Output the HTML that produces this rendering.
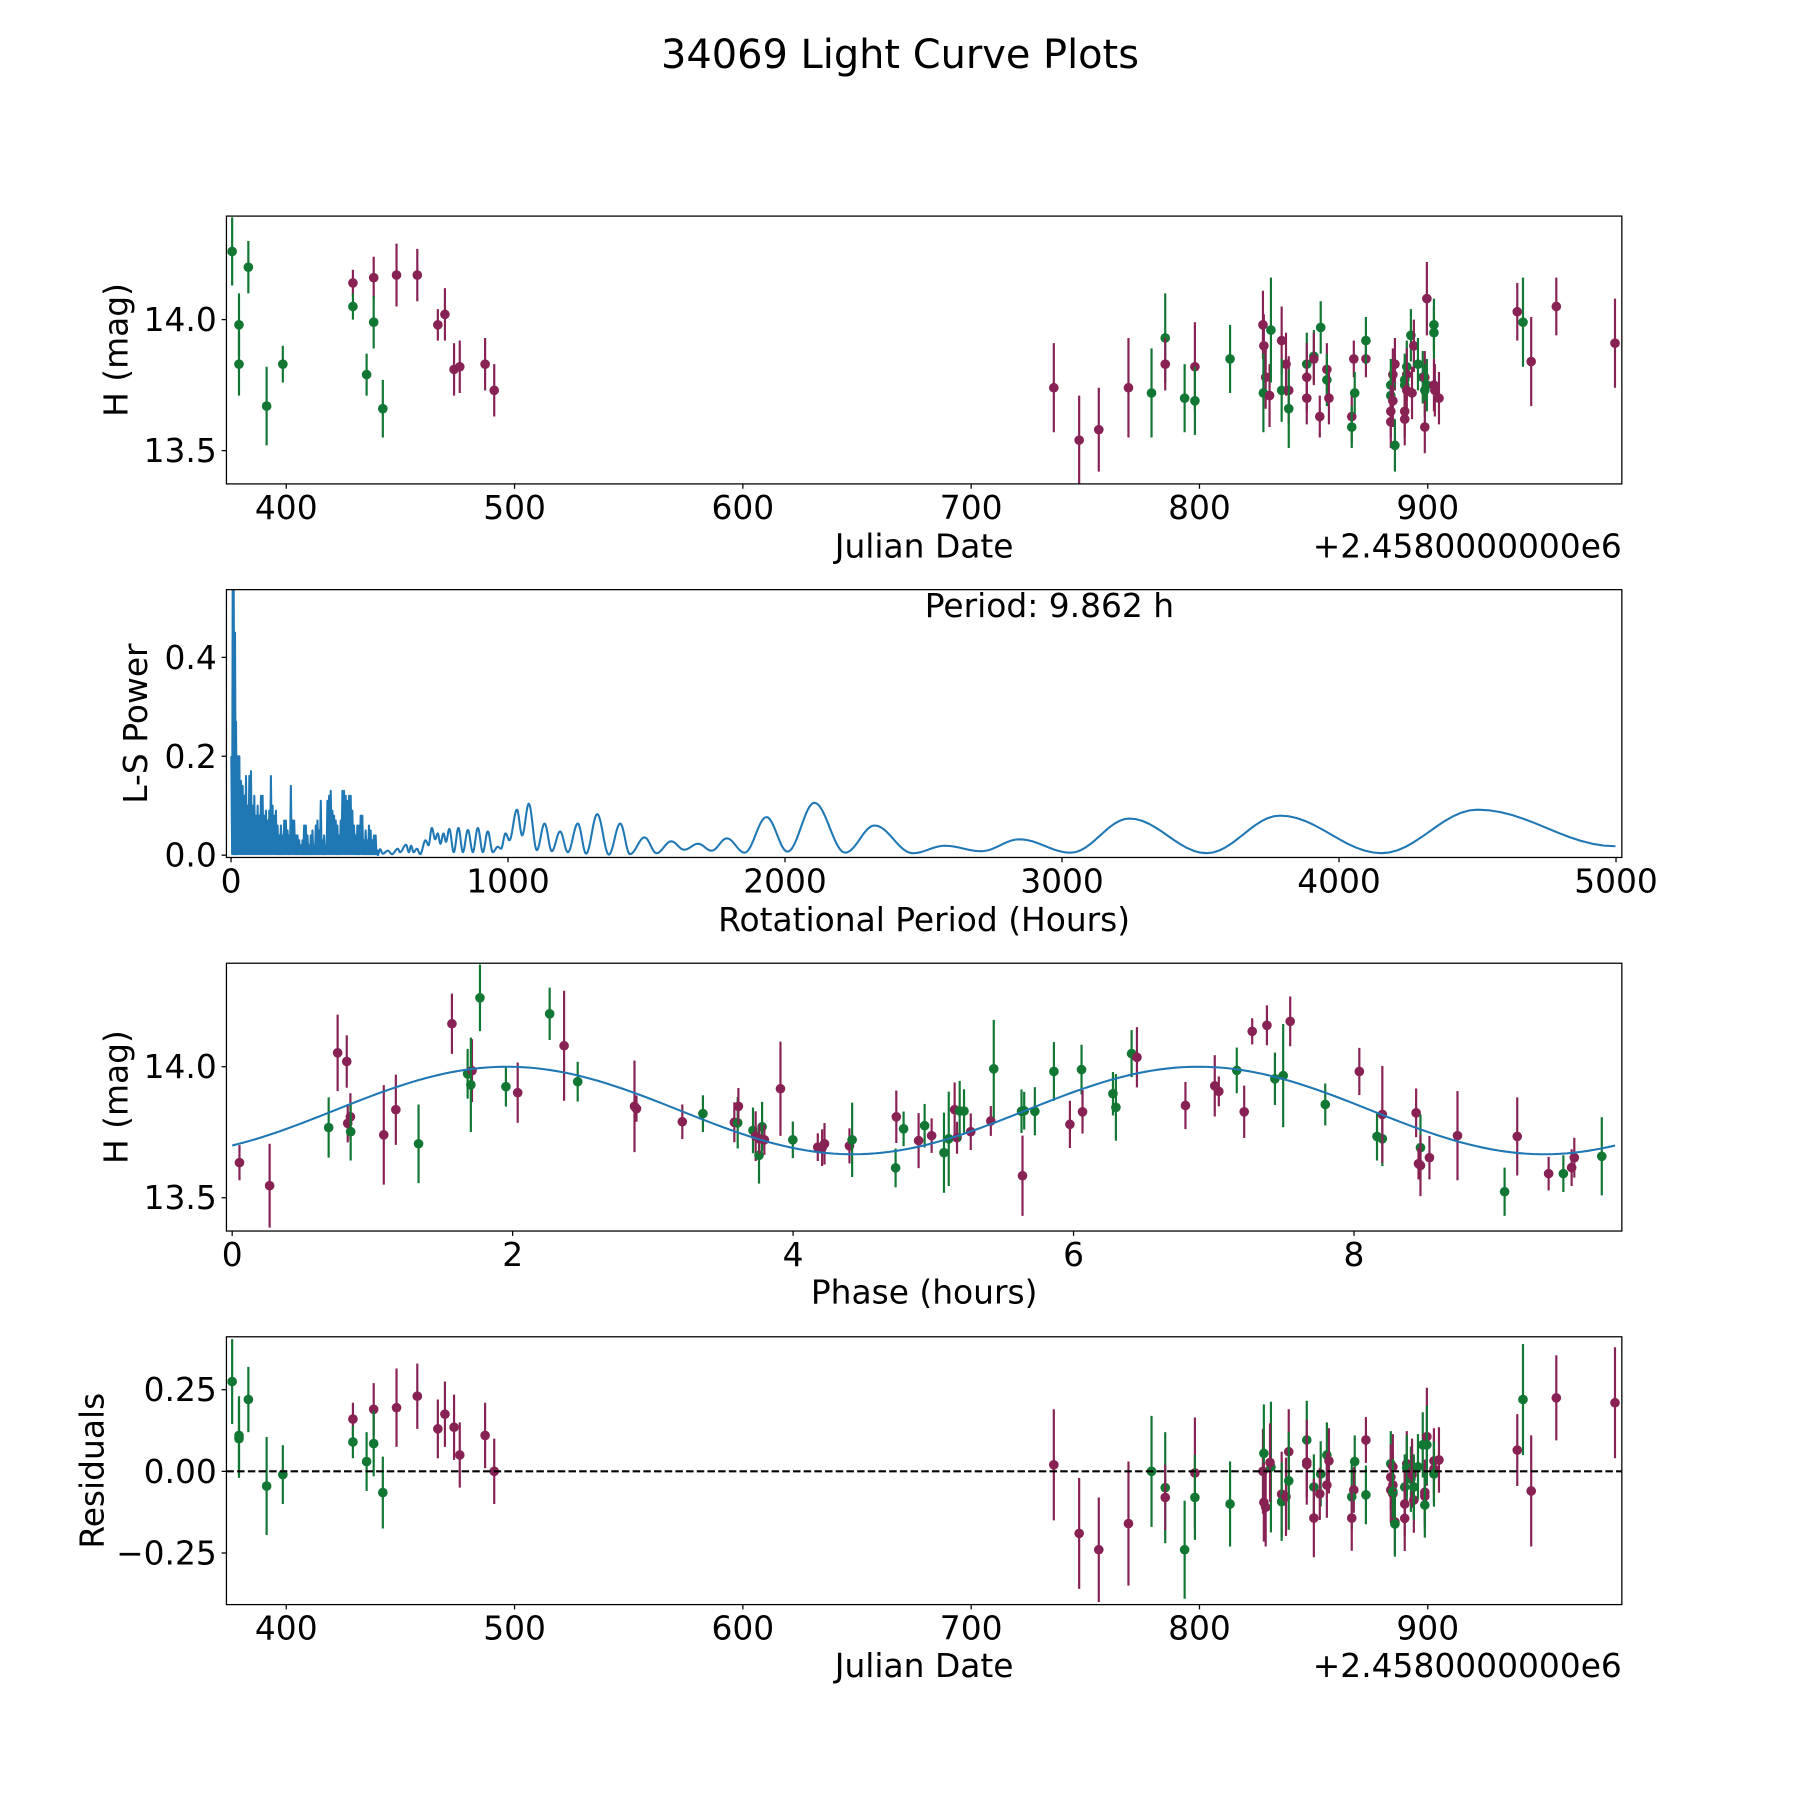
<!DOCTYPE html>
<html><head><meta charset="utf-8"><title>34069 Light Curve Plots</title>
<style>html,body{margin:0;padding:0;background:#fff}svg{display:block}text{font-family:"DejaVu Sans","Liberation Sans",sans-serif;fill:#000}</style>
</head><body>
<svg id="fig" xmlns="http://www.w3.org/2000/svg" width="1800" height="1800" viewBox="0 0 1566 1566">
<rect x="0" y="0" width="1566" height="1566" fill="#fff"/>
<text x="783" y="59" font-size="34.7" text-anchor="middle">34069 Light Curve Plots</text>
</svg>
<script>
// ---------- Panel 1: light curve (Julian date offset 2458000) ----------
const lcDates = [376.3,379.3,379.3,383.4,391.4,398.5,429.2,429.2,435.2,438.3,438.3,442.3,448.3,457.4,466.4,469.5,473.5,476.0,487.1,491.1,
736.2,747.3,755.9,768.9,779.0,785.0,785.0,793.5,798.0,798.0,813.4,
827.8,828.2,829.0,828.0,830.7,831.3,836.0,837.9,836.0,839.1,839.1,847.0,847.0,847.0,850.1,850.1,853.1,852.7,855.8,855.8,856.7,866.7,866.7,867.6,868.0,872.9,872.9,
885.6,884.7,883.8,883.8,884.7,883.8,883.8,885.6,892.6,893.9,890.8,890.8,889.9,889.9,890.8,893.1,889.9,889.9,
895.7,899.6,897.8,898.7,898.7,898.7,899.6,902.7,902.7,902.7,903.1,904.9,
939.2,941.7,945.3,956.3,982.0];
const lcMags = [14.26,13.98,13.83,14.20,13.67,13.83,14.14,14.05,13.79,14.16,13.99,13.66,14.17,14.17,13.98,14.02,13.81,13.82,13.83,13.73,
13.74,13.54,13.58,13.74,13.72,13.93,13.83,13.70,13.82,13.69,13.85,
13.98,13.90,13.78,13.72,13.71,13.96,13.92,13.83,13.73,13.73,13.66,13.83,13.78,13.70,13.86,13.85,13.97,13.63,13.81,13.77,13.70,13.63,13.59,13.85,13.72,13.85,13.92,
13.83,13.79,13.75,13.71,13.69,13.65,13.61,13.52,13.94,13.90,13.82,13.79,13.77,13.75,13.73,13.72,13.65,13.62,
13.83,14.08,13.78,13.78,13.73,13.59,13.75,13.98,13.95,13.75,13.73,13.70,
14.03,13.99,13.84,14.05,13.91];
const lcErrs = [0.13,0.12,0.12,0.10,0.15,0.07,0.05,0.05,0.08,0.08,0.10,0.11,0.12,0.10,0.06,0.10,0.10,0.10,0.10,0.10,
0.17,0.17,0.16,0.19,0.17,0.17,0.10,0.13,0.17,0.13,0.13,
0.13,0.12,0.12,0.15,0.12,0.20,0.13,0.12,0.12,0.13,0.15,0.12,0.13,0.10,0.10,0.10,0.10,0.08,0.10,0.10,0.10,0.10,0.08,0.07,0.08,0.07,0.09,
0.10,0.10,0.10,0.10,0.10,0.10,0.10,0.10,0.10,0.10,0.10,0.10,0.10,0.10,0.10,0.10,0.10,0.10,
0.10,0.14,0.10,0.10,0.10,0.10,0.10,0.10,0.10,0.10,0.10,0.10,
0.11,0.17,0.17,0.11,0.17];
const lcColors = ['g','g','g','g','g','g','m','g','g','m','g','g','m','m','m','m','m','m','m','m',
'm','m','m','m','g','g','m','g','m','g','g',
'm','m','m','g','m','g','m','m','g','m','g','g','m','m','g','m','g','m','m','g','m','m','g','m','g','m','g',
'm','m','g','g','m','m','m','g','g','m','g','m','g','g','m','m','m','m',
'g','m','g','m','g','m','g','g','g','m','m','m',
'm','g','m','m','m'];

// ---------- Panel 2: Lomb-Scargle periodogram ----------
const lsNoisePeriods = [1,6,9.6,14.4,18,24,30,36,42,48,54,60,66,72,78,84,90,96,102,108,114,120,126,132,138,144,150,156,162,168,174,180,186,192,198,204,210,216,222,228,234,240,246,252,258,264,270,276,282,288,294,300,306,312,318,324,330,336,342,348,354,360,366,372,378,384,390,396,402,408,414,420,426,432,438,444,450,456,462,468,474,480,486,492,498,504,510,516,522,528];
const lsNoisePowers = [0.20,0.56,0.56,0.45,0.27,0.20,0.20,0.15,0.14,0.12,0.16,0.10,0.16,0.17,0.10,0.12,0.08,0.10,0.08,0.12,0.12,0.08,0.09,0.07,0.09,0.16,0.10,0.08,0.09,0.06,0.04,0.06,0.04,0.07,0.07,0.05,0.04,0.14,0.07,0.07,0.04,0.04,0.03,0.02,0.03,0.06,0.06,0.04,0.02,0.04,0.05,0.02,0.06,0.07,0.05,0.11,0.03,0.04,0.02,0.11,0.12,0.13,0.09,0.08,0.07,0.06,0.04,0.07,0.13,0.13,0.12,0.11,0.12,0.12,0.09,0.06,0.04,0.06,0.06,0.08,0.08,0.03,0.05,0.03,0.06,0.05,0.03,0.04,0.04,0.01];
const lsSmoothPeriods = [530,538,548,566,581,602,610,632,642,650,659,671,683,702,713,725,737,746,756,767,776,788,804,821,837,855,873,891,909,927,945,963,975,991,1005,1032,1051,1075,1104,1132,1158,1188,1216,1252,1282,1322,1364,1405,1440,1493,1536,1589,1636,1686,1735,1790,1854,1933,2009,2106,2217,2323,2461,2577,2708,2846,3031,3243,3522,3787,4154,4500,4998];
const lsSmoothPowers = [0.000,0.012,0.003,0.009,0.002,0.013,0.006,0.021,0.006,0.019,0.006,0.013,0.002,0.030,0.020,0.055,0.032,0.044,0.023,0.044,0.027,0.053,0.006,0.055,0.006,0.051,0.006,0.055,0.006,0.048,0.006,0.017,0.013,0.044,0.030,0.092,0.040,0.104,0.010,0.064,0.008,0.048,0.006,0.064,0.003,0.083,0.001,0.064,0.002,0.036,0.004,0.028,0.011,0.023,0.009,0.034,0.005,0.077,0.007,0.106,0.005,0.060,0.004,0.019,0.008,0.032,0.005,0.074,0.004,0.080,0.004,0.092,0.018];
const bestPeriod = 9.862;

// ---------- Panel 3: phase-folded curve ----------
const phPhases = [0.052,0.267,0.688,0.752,0.817,0.824,0.843,0.845,1.081,1.167,1.329,1.567,1.679,1.710,1.702,1.767,1.952,2.036,2.264,2.367,2.464,2.869,2.883,3.210,
3.357,3.581,3.605,3.610,3.714,3.733,3.757,3.779,3.760,3.795,3.910,3.998,4.176,4.207,4.224,4.402,4.421,4.731,4.736,4.788,4.895,4.938,4.988,5.076,5.110,5.152,5.169,5.188,5.219,5.267,5.410,5.431,5.636,5.629,5.648,5.724,5.860,5.974,6.057,6.064,6.281,6.302,6.414,6.452,
6.798,7.007,7.036,7.164,7.217,7.274,7.379,7.436,7.495,7.545,7.795,8.038,8.164,8.202,8.202,8.443,8.474,8.460,8.474,8.538,8.738,9.074,9.164,9.388,9.493,9.552,9.571,9.767];
const phMags = [13.634,13.546,13.768,14.053,14.020,13.784,13.809,13.752,13.740,13.836,13.706,14.164,13.973,13.985,13.931,14.263,13.924,13.901,14.202,14.080,13.943,13.849,13.840,13.790,
13.821,13.788,13.786,13.849,13.757,13.735,13.662,13.771,13.725,13.721,13.916,13.721,13.693,13.691,13.706,13.698,13.721,13.614,13.809,13.763,13.718,13.775,13.737,13.672,13.725,13.836,13.729,13.831,13.831,13.752,13.793,13.992,13.584,13.830,13.832,13.830,13.982,13.780,13.989,13.828,13.897,13.845,14.050,14.036,
13.852,13.927,13.906,13.986,13.828,14.135,14.158,13.954,13.966,14.173,13.856,13.982,13.734,13.725,13.818,13.824,13.691,13.630,13.623,13.653,13.737,13.523,13.734,13.592,13.592,13.615,13.653,13.658];
const phErrs = [0.067,0.16,0.115,0.146,0.10,0.073,0.09,0.11,0.19,0.134,0.15,0.115,0.095,0.12,0.18,0.127,0.076,0.115,0.10,0.21,0.076,0.175,0.05,0.066,
0.07,0.076,0.098,0.07,0.087,0.095,0.108,0.095,0.057,0.057,0.18,0.07,0.053,0.07,0.079,0.067,0.142,0.074,0.10,0.066,0.105,0.083,0.066,0.153,0.18,0.104,0.061,0.115,0.083,0.07,0.057,0.187,0.153,0.083,0.072,0.092,0.112,0.09,0.095,0.083,0.083,0.127,0.09,0.115,
0.09,0.117,0.057,0.087,0.10,0.05,0.076,0.10,0.197,0.095,0.08,0.09,0.092,0.104,0.185,0.093,0.127,0.06,0.117,0.083,0.17,0.092,0.149,0.064,0.07,0.07,0.076,0.149];
const phColors = ['m','m','g','m','m','m','m','g','m','m','g','m','g','m','g','g','g','m','g','m','g','m','m','m',
'g','m','g','m','g','m','g','g','m','m','m','g','m','m','m','m','g','g','m','g','m','g','m','g','g','m','m','g','g','m','m','g','m','g','g','g','g','m','g','m','g','g','g','m',
'm','m','m','g','m','m','m','g','g','m','g','m','g','g','m','m','g','m','m','m','m','g','m','m','g','m','m','g'];
const modelMean = 13.833, modelAmp = 0.167, modelPeakPhase = 1.96;

// ---------- Panel 4: residuals ----------
const resDates = [376.3,379.3,379.3,383.4,391.4,398.5,429.2,429.2,435.2,438.3,438.3,442.3,448.3,457.4,466.4,469.5,473.5,476.0,487.1,491.1,
736.2,747.3,755.9,768.9,779.0,785.0,785.0,793.5,798.0,798.0,813.4,
827.8,828.2,828.2,829.0,831.3,830.9,836.0,836.0,837.9,839.1,839.1,847.0,847.0,847.0,850.1,850.1,853.1,852.7,855.8,856.7,855.8,868.0,867.6,866.7,866.7,872.9,872.9,
883.8,884.7,883.8,883.8,884.7,884.7,884.7,885.6,885.6,890.8,890.8,893.1,892.6,893.1,889.9,889.9,889.9,893.9,893.9,
895.7,897.8,899.6,899.6,898.7,898.7,898.7,902.7,902.7,902.7,904.9,
939.2,941.7,945.3,956.3,982.0];
const resVals = [0.275,0.11,0.10,0.22,-0.045,-0.01,0.16,0.09,0.03,0.19,0.085,-0.065,0.195,0.23,0.13,0.175,0.135,0.05,0.11,0.0,
0.02,-0.19,-0.24,-0.16,0.0,-0.05,-0.08,-0.24,-0.005,-0.08,-0.10,
0.0,0.055,-0.095,-0.11,0.013,0.027,-0.07,-0.093,-0.078,0.06,-0.029,0.096,0.028,0.021,-0.048,-0.143,-0.008,-0.069,0.050,0.032,-0.042,0.030,-0.057,-0.078,-0.143,0.096,-0.072,
0.023,0.014,-0.018,-0.057,-0.042,-0.069,-0.062,-0.155,-0.161,0.023,0.011,0.0,-0.024,-0.011,-0.048,-0.100,-0.144,-0.088,-0.048,
0.014,0.081,0.106,0.081,-0.064,-0.076,-0.103,0.032,0.007,-0.008,0.035,
0.065,0.22,-0.06,0.225,0.21];
const resErrs = [0.13,0.12,0.12,0.10,0.15,0.09,0.05,0.05,0.09,0.08,0.10,0.11,0.12,0.10,0.09,0.10,0.10,0.10,0.10,0.10,
0.17,0.17,0.16,0.19,0.17,0.17,0.10,0.15,0.17,0.13,0.13,
0.13,0.15,0.12,0.12,0.2,0.12,0.13,0.12,0.12,0.13,0.15,0.12,0.13,0.10,0.10,0.12,0.10,0.08,0.10,0.10,0.10,0.08,0.07,0.10,0.10,0.07,0.09,
0.10,0.10,0.10,0.10,0.10,0.10,0.10,0.10,0.10,0.10,0.10,0.10,0.10,0.10,0.10,0.10,0.10,0.10,0.10,
0.10,0.10,0.15,0.12,0.10,0.10,0.10,0.10,0.10,0.10,0.10,
0.11,0.17,0.17,0.13,0.17];
const resColors = ['g','g','g','g','g','g','m','g','g','m','g','g','m','m','m','m','m','m','m','m',
'm','m','m','m','g','g','m','g','m','g','g',
'm','g','m','m','g','m','m','g','m','m','g','g','m','m','g','m','g','m','g','m','m','g','m','g','m','m','g',
'g','m','m','m','m','m','g','m','g','m','g','m','g','m','g','m','m','m','g',
'g','g','m','g','m','m','g','m','m','g','m',
'm','g','m','m','m'];

// ---------- Ticks ----------
const jdTicks = [400,500,600,700,800,900];
const jdTickLabels = ['400','500','600','700','800','900'];
const magTicks = [13.5,14.0];
const magTickLabels = ['13.5','14.0'];
const lsXTicks = [0,1000,2000,3000,4000,5000];
const lsXTickLabels = ['0','1000','2000','3000','4000','5000'];
const lsYTicks = [0,0.2,0.4];
const lsYTickLabels = ['0.0','0.2','0.4'];
const phTicks = [0,2,4,6,8];
const phTickLabels = ['0','2','4','6','8'];
const resTicks = [-0.25,0,0.25];
const resTickLabels = ['\u22120.25','0.00','0.25'];

const NS = 'http://www.w3.org/2000/svg';
const svg = document.getElementById('fig');
const COL = {g:'#117733', m:'#882255'};
const FS = 28.6;

function mk(tag, attrs, parent){
  const e = document.createElementNS(NS, tag);
  for (const k in attrs) e.setAttribute(k, attrs[k]);
  (parent||svg).appendChild(e);
  return e;
}
function makePanel(name, x0, x1, y0, y1, xd, yd){
  const g = mk('g', {});
  
  
  const cp = mk('clipPath', {id: 'clip-' + name}, g);
  mk('rect', {x: x0, y: y0, width: x1 - x0, height: y1 - y0}, cp);
  const sx = v => x0 + (v - xd[0]) / (xd[1] - xd[0]) * (x1 - x0);
  const sy = v => y1 - (v - yd[0]) / (yd[1] - yd[0]) * (y1 - y0);
  const plot = mk('g', {'clip-path': 'url(#clip-' + name + ')'}, g);
  
  
  return {g, plot, sx, sy, x0, x1, y0, y1};
}
function frame(P){
  const r = mk('rect', {x: P.x0, y: P.y0, width: P.x1 - P.x0, height: P.y1 - P.y0, fill: 'none', stroke: '#000', 'stroke-width': 1.1}, P.g);
  
  
}
function xTicks(P, vals, labels){
  vals.forEach((v, i) => {
    const x = P.sx(v);
    const t = mk('line', {x1: x, x2: x, y1: P.y1, y2: P.y1 + 4.2, stroke: '#000', 'stroke-width': 1.1}, P.g);
    
    
    const l = mk('text', {x: x, y: P.y1 + 30.5, 'font-size': FS, 'text-anchor': 'middle'}, P.g);
    l.textContent = labels[i];
    
    
  });
}
function yTicks(P, vals, labels){
  vals.forEach((v, i) => {
    const y = P.sy(v);
    const t = mk('line', {x1: P.x0 - 4.2, x2: P.x0, y1: y, y2: y, stroke: '#000', 'stroke-width': 1.1}, P.g);
    
    
    const l = mk('text', {x: P.x0 - 8.4, y: y + 10, 'font-size': FS, 'text-anchor': 'end'}, P.g);
    l.textContent = labels[i];
    
    
  });
}
function xLabel(P, txt, y, name){
  const l = mk('text', {x: (P.x0 + P.x1) / 2, y: y, 'font-size': FS, 'text-anchor': 'middle'}, P.g);
  l.textContent = txt;
  
  
}
function yLabel(P, txt, x, name){
  const cy = (P.y0 + P.y1) / 2;
  const l = mk('text', {x: x, y: cy, 'font-size': FS, 'text-anchor': 'middle', 'dominant-baseline': 'central', transform: 'rotate(-90 ' + x + ' ' + cy + ')'}, P.g);
  l.textContent = txt;
  
  
}
function offsetText(P, y){
  const l = mk('text', {x: P.x1, y: y, 'font-size': FS, 'text-anchor': 'end'}, P.g);
  l.textContent = '+2.4580000000e6';
  
  
}
function errPoints(P, xs, ys, es, cs){
  xs.forEach((xv, i) => {
    const c = COL[cs[i]];
    const x = P.sx(xv);
    const eb = mk('line', {x1: x, x2: x, y1: P.sy(ys[i] - es[i]), y2: P.sy(ys[i] + es[i]), stroke: c, 'stroke-width': 1.9}, P.plot);
    
    
    const d = mk('circle', {cx: x, cy: P.sy(ys[i]), r: 4.2, fill: c}, P.plot);
    
    
  });
}

// Panel 1
const P1 = makePanel('light-curve-panel', 197, 1411, 188, 421, [373.8, 985], [13.373, 14.395]);
errPoints(P1, lcDates, lcMags, lcErrs, lcColors);
frame(P1); xTicks(P1, jdTicks, jdTickLabels); yTicks(P1, magTicks, magTickLabels);
xLabel(P1, 'Julian Date', 485, 'x-axis-title-julian-date');
yLabel(P1, 'H (mag)', 101, 'y-axis-title-h-mag');
offsetText(P1, 485);

// Panel 2
const P2 = makePanel('periodogram-panel', 197, 1411, 513, 746, [-16.6, 5021], [-0.0047, 0.537]);
(function(){
  const pts = [];
  lsNoisePeriods.forEach((p, i) => {
    pts.push([P2.sx(p), P2.sy(lsNoisePowers[i])]);
    pts.push([P2.sx(p + 3), P2.sy(0.002)]);
  });
  for (let i = 0; i < lsSmoothPeriods.length; i++){
    if (i === 0){ pts.push([P2.sx(lsSmoothPeriods[0]), P2.sy(lsSmoothPowers[0])]); continue; }
    const pa = lsSmoothPeriods[i-1], pb = lsSmoothPeriods[i];
    const va = lsSmoothPowers[i-1], vb = lsSmoothPowers[i];
    for (let k = 1; k <= 12; k++){
      const t = k / 12;
      const v = va + (vb - va) * (1 - Math.cos(Math.PI * t)) / 2;
      pts.push([P2.sx(pa + (pb - pa) * t), P2.sy(v)]);
    }
  }
  const line = mk('polyline', {points: pts.map(p => p[0].toFixed(2) + ',' + p[1].toFixed(2)).join(' '), fill: 'none', stroke: '#1f77b4', 'stroke-width': 1.8, 'stroke-linejoin': 'round'}, P2.plot);
  
  
})();
frame(P2); xTicks(P2, lsXTicks, lsXTickLabels); yTicks(P2, lsYTicks, lsYTickLabels);
xLabel(P2, 'Rotational Period (Hours)', 810, 'x-axis-title-rotational-period');
yLabel(P2, 'L-S Power', 118, 'y-axis-title-ls-power');
(function(){
  const t = mk('text', {x: 913, y: 537, 'font-size': FS, 'text-anchor': 'middle'}, P2.g);
  t.textContent = 'Period: ' + bestPeriod.toFixed(3) + ' h';
  
  
})();

// Panel 3
const P3 = makePanel('phase-panel', 197, 1411, 838, 1071, [-0.041, 9.91], [13.373, 14.395]);
errPoints(P3, phPhases, phMags, phErrs, phColors);
(function(){
  const pts = [];
  for (let k = 0; k <= 200; k++){
    const ph = bestPeriod * k / 200;
    const v = modelMean + modelAmp * Math.cos(4 * Math.PI * (ph - modelPeakPhase) / bestPeriod);
    pts.push(P3.sx(ph).toFixed(2) + ',' + P3.sy(v).toFixed(2));
  }
  const line = mk('polyline', {points: pts.join(' '), fill: 'none', stroke: '#1f77b4', 'stroke-width': 1.8}, P3.plot);
  
  
})();
frame(P3); xTicks(P3, phTicks, phTickLabels); yTicks(P3, magTicks, magTickLabels);
xLabel(P3, 'Phase (hours)', 1134, 'x-axis-title-phase');
yLabel(P3, 'H (mag)', 101, 'y-axis-title-h-mag-phase');

// Panel 4
const P4 = makePanel('residuals-panel', 197, 1411, 1163, 1396, [373.8, 985], [-0.408, 0.412]);
errPoints(P4, resDates, resVals, resErrs, resColors);
(function(){
  const y = P4.sy(0);
  const l = mk('line', {x1: P4.x0, x2: P4.x1, y1: y, y2: y, stroke: '#000', 'stroke-width': 1.8, 'stroke-dasharray': '6.5,2.8'}, P4.plot);
  
  
})();
frame(P4); xTicks(P4, jdTicks, jdTickLabels); yTicks(P4, resTicks, resTickLabels);
xLabel(P4, 'Julian Date', 1459, 'x-axis-title-julian-date-residuals');
yLabel(P4, 'Residuals', 80, 'y-axis-title-residuals');
offsetText(P4, 1459);
</script>
</body></html>
